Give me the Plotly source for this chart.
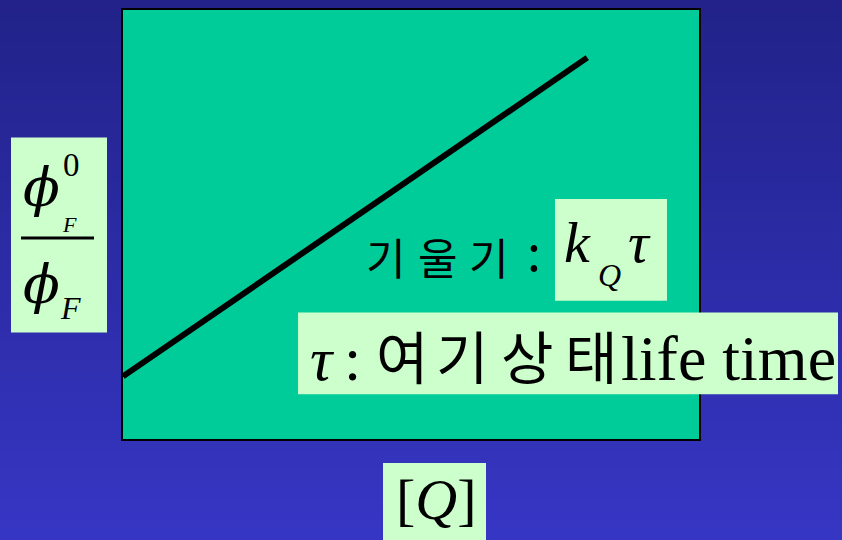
import plotly.graph_objects as go

# ---- data ----
quencher_conc = [0.0, 8.06]          # [Q], arbitrary units (x range 0..10)
phi_ratio = [1.46, 8.89]             # phi_F^0 / phi_F (y range 0..10)
x_range = [0, 10]
y_range = [0, 10]

W, H = 842, 540
L, R, T, B = 123, 699, 8, 439        # plot area in pixels
PW, PH = R - L, B - T


def px(x):
    return (x - L) / PW


def py(y):
    return (B - y) / PH


fig = go.Figure()
fig.add_trace(go.Scatter(x=quencher_conc, y=phi_ratio, mode="lines",
                         line=dict(color="black", width=6),
                         hoverinfo="skip", showlegend=False, cliponaxis=False))

shapes = []
# gradient background bands
top = (0x22, 0x22, 0x8A)
bot = (0x36, 0x36, 0xC4)
n = 54
for i in range(n):
    t = i / (n - 1)
    c = tuple(round(top[k] + (bot[k] - top[k]) * t) for k in range(3))
    y0 = i * H / n
    y1 = (i + 1) * H / n + 1
    shapes.append(dict(type="rect", xref="paper", yref="paper",
                       x0=px(-5), x1=px(W + 5), y0=py(y1), y1=py(y0),
                       fillcolor="rgb(%d,%d,%d)" % c, line=dict(width=0),
                       layer="below"))
# green plot area
shapes.append(dict(type="rect", xref="paper", yref="paper", x0=0, x1=1, y0=0, y1=1,
                   fillcolor="#00CC99", line=dict(width=0), layer="below"))

BOX = "#CCFFCC"


def box(x0, x1, y0, y1):
    shapes.append(dict(type="rect", xref="paper", yref="paper",
                       x0=px(x0), x1=px(x1), y0=py(y1), y1=py(y0),
                       fillcolor=BOX, line=dict(width=0), layer="above"))


box(11, 107, 136, 332)      # phi ratio label
box(555, 667, 198, 300)     # k_Q tau
box(298, 838, 312, 394)     # tau : ...
box(383, 486, 463, 545)     # [Q]

# fraction bar
shapes.append(dict(type="line", xref="paper", yref="paper",
                   x0=px(21), x1=px(94), y0=py(237), y1=py(237),
                   line=dict(color="black", width=3), layer="above"))

SERIF = "Liberation Serif"
GREEK = "DejaVu Serif"
KR = "Noto Sans CJK KR"

annos = []


def ann(text, x, y, size, family, xanchor="center"):
    annos.append(dict(text=text, xref="paper", yref="paper", x=px(x), y=py(y),
                      xanchor=xanchor, yanchor="middle", showarrow=False,
                      font=dict(family=family, size=size, color="black"),
                      borderpad=0))


# y-axis label: phi_F^0 / phi_F
ann("<i>ϕ</i>", 41, 186, 54, GREEK)
ann("0", 71.5, 164, 33, SERIF)
ann("<i>F</i>", 69, 223, 22, SERIF)
ann("<i>ϕ</i>", 41, 284, 54, GREEK)
ann("<i>F</i>", 70, 307, 32, SERIF)

# slope label
for ch, cx in zip(["기", "울", "기"], [386, 437.5, 489]):
    ann(ch, cx, 255, 43, KR)
ann(":", 534, 248, 50, KR)
ann("<i>k</i>", 563, 242, 58, SERIF, xanchor="left")
ann("<i>Q</i>", 609, 274, 32, SERIF)
ann("<i>τ</i>", 639.5, 242, 58, SERIF)

# tau definition
ann("<i>τ</i>", 322, 359, 62, SERIF)
ann(":", 352, 359, 62, SERIF)
for ch, cx in zip(["여", "기", "상", "태"], [402, 462, 527, 591]):
    ann(ch, cx, 354, 57, KR)
ann("life time", 620, 358, 64, SERIF, xanchor="left")

# x-axis label
ann("[<i>Q</i>]", 436, 499.5, 58, SERIF)

axis = dict(range=None, showgrid=False, zeroline=False, showticklabels=False,
            ticks="", showline=True, mirror=True, linecolor="black", linewidth=2,
            fixedrange=True)

fig.update_layout(
    width=W, height=H,
    margin=dict(l=L, r=W - R, t=T, b=H - B, pad=0),
    paper_bgcolor="#22228A", plot_bgcolor="rgba(0,0,0,0)",
    xaxis={**axis, "range": x_range},
    yaxis={**axis, "range": y_range},
    shapes=shapes, annotations=annos, showlegend=False,
)

fig.write_html("out.html", config={"displayModeBar": False},
               post_script="document.body.style.margin='0px';")
